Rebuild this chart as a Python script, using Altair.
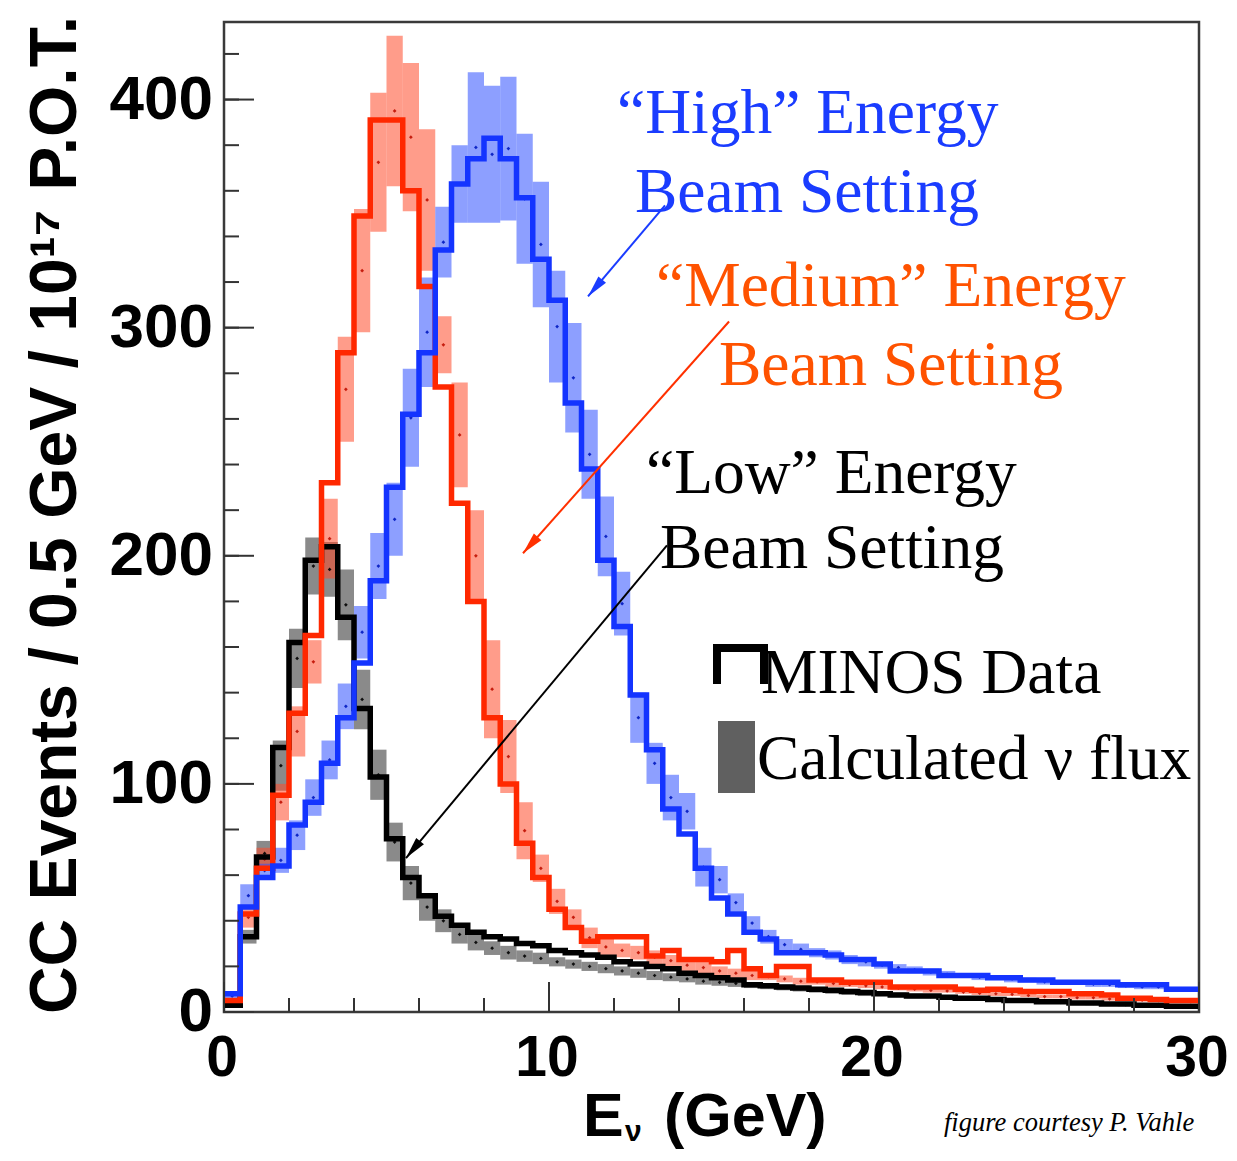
import altair as alt
import pandas as pd

# ---------------- data ----------------
EDGES = [i * 0.5 for i in range(61)]  # 0 .. 30 GeV, 0.5 GeV bins

low_data = [3, 33, 68, 116, 162, 198, 204, 173, 133, 103,
            76, 59, 51, 42, 38, 35, 33, 32, 30, 29,
            27, 26, 25, 24, 22, 21, 20, 19, 17, 16,
            15, 14, 12, 11.5, 11, 10.5, 10, 9.5, 9, 8.5,
            8, 7.5, 7, 7, 6.5, 6, 6, 5.5, 5, 5,
            4.5, 4.5, 4, 4, 3.5, 3.5, 3, 3, 2.5, 2.5]
med_data = [5, 43, 63, 95, 131, 165, 232, 289, 349, 391,
            391, 360, 318, 274, 223, 180, 129, 100, 74, 59,
            45, 37, 31, 33, 33, 33, 24.5, 27, 23, 23,
            22, 27, 19, 16, 20, 20, 14, 14, 13, 13,
            13, 11, 11, 11, 11, 10, 9.5, 10, 9.5, 9,
            9, 9, 8, 8, 7.5, 6, 6, 5.5, 5, 5]
high_data = [8, 46, 59, 64, 82, 92, 109, 129, 153, 189,
             230, 262, 289, 334, 363, 374, 383, 374, 357, 330,
             312, 267, 238, 198, 169, 139, 115, 89, 78, 63,
             50, 43, 35, 32, 26, 26, 26, 25, 23, 23,
             21, 18, 18, 18, 16, 16, 16, 15, 15, 14,
             14, 13, 13, 13, 13, 12, 12, 12, 10, 10]

# calculated flux bands (low / high edge per bin)
low_lo = [2, 30, 64, 97, 142, 183, 182, 163, 124, 93,
          66, 49, 40, 35, 30, 27, 25, 23, 22, 21,
          20, 19, 18, 17, 16, 15, 14, 13.5, 13, 12,
          11.5, 11, 10.5, 10, 9.5, 9, 8.5, 8, 7.5, 7,
          7, 6.5, 6, 6, 5.5, 5, 5, 4.5, 4.5, 4,
          4, 3.5, 3.5, 3, 3, 2.5, 2.5, 2, 2, 2]
low_hi = [4, 36, 75, 119, 168, 208, 206, 194, 150, 115,
          83, 64, 52, 45, 38, 34, 31, 29, 27, 26,
          24, 23, 22, 21, 20, 19, 18, 17, 16, 15,
          14.5, 14, 13, 12.5, 12, 11.5, 11, 10.5, 10, 9.5,
          9, 8.5, 8, 7.5, 7, 7, 6.5, 6, 6, 5.5,
          5, 5, 4.5, 4.5, 4, 4, 3.5, 3.5, 3, 3]
med_lo = [3, 37, 62, 84, 112, 144, 190, 250, 298, 342,
          362, 351, 325, 280, 230, 180, 120, 96, 67, 57,
          43, 38, 28, 25, 24, 23, 21, 20, 18, 17,
          16, 15, 14, 14, 13, 12, 12, 11, 11, 10.5,
          10, 9.5, 9, 8.5, 8.5, 8, 7.5, 7, 7, 6.5,
          6, 6, 5.5, 5.5, 5, 5, 4.5, 4.5, 4, 4]
med_hi = [6, 46, 72, 100, 134, 163, 225, 296, 352, 403,
          428, 416, 387, 305, 276, 220, 163, 128, 92, 69,
          54, 45, 37, 32, 30, 29, 27, 25, 23, 22,
          20, 19, 18, 17, 16, 15, 14.5, 14, 13, 12.5,
          12, 11.5, 11, 10.5, 10, 9.5, 9, 9, 8.5, 8,
          7.5, 7.5, 7, 7, 6.5, 6, 6, 5.5, 5.5, 5]
high_lo = [5, 46, 59, 61, 71, 86, 102, 124, 155, 181,
           200, 239, 274, 322, 346, 346, 346, 347, 328, 309,
           276, 254, 225, 191, 165, 118, 100, 84, 80, 55,
           52, 44, 36, 30, 27, 25, 24, 23, 21, 20,
           19, 18, 17, 16, 15, 15, 14, 14, 13, 13,
           12, 12, 12, 11, 11, 10.5, 10, 10, 9, 9]
high_hi = [9, 56, 65, 72, 84, 102, 119, 144, 178, 210,
           232, 282, 322, 353, 380, 412, 406, 410, 385, 364,
           325, 302, 264, 226, 193, 140, 118, 104, 96, 72,
           64, 52, 42, 36, 32, 30, 28, 27, 25, 24,
           22, 21, 20, 19, 18, 17, 16.5, 16, 16, 15,
           14.5, 14, 14, 13.5, 13, 12.5, 12, 12, 11, 11]

x_tick_labels = [0, 10, 20, 30]
y_tick_labels = [0, 100, 200, 300, 400]
x_minor_ticks = list(range(0, 31, 2))
y_minor_ticks = list(range(0, 421, 20))

# arrows: start (x, y) -> tip (x, y) in data units, head rotation, colour
arrow_x0 = [13.57, 15.54, 13.63]
arrow_y0 = [353.6, 302.7, 204.6]
arrow_x1 = [11.20, 9.20, 5.60]
arrow_y1 = [313.7, 201.1, 67.5]
arrow_angle = [220.2, 221.6, 219.8]
arrow_color = ["#1a3cff", "#ff3000", "#000000"]

# ---------------- styling ----------------
C_LOW, C_MED, C_HIGH = "#000000", "#ff2800", "#1434ff"
B_LOW, B_MED, B_HIGH = "#2a2a2a", "#ff4a2a", "#3050ff"
OX, OY = 224, 22  # page position of plot origin
W, H = 975, 990

xs = alt.Scale(domain=[0, 30], nice=False, zero=False)
ys = alt.Scale(domain=[0, 434], nice=False, zero=False)


def band_layer(lo, hi, color):
    df = pd.DataFrame({"x0": EDGES[:-1], "x1": EDGES[1:], "lo": lo, "hi": hi})
    return alt.Chart(df).mark_rect(color=color, opacity=0.55, strokeWidth=0).encode(
        x=alt.X("x0:Q", scale=xs, axis=None), x2="x1:Q",
        y=alt.Y("lo:Q", scale=ys, axis=None), y2="hi:Q")


def dot_layer(lo, hi, color):
    df = pd.DataFrame({"xc": [e + 0.25 for e in EDGES[:-1]],
                       "m": [(a + b) / 2 for a, b in zip(lo, hi)]})
    return alt.Chart(df).mark_point(shape="diamond", filled=True, size=14,
                                    color=color, opacity=0.9).encode(
        x=alt.X("xc:Q", scale=xs, axis=None), y=alt.Y("m:Q", scale=ys, axis=None))


def step_layer(vals, color):
    df = pd.DataFrame({"e": EDGES, "v": list(vals) + [vals[-1]]})
    return alt.Chart(df).mark_line(interpolate="step-after", color=color,
                                   strokeWidth=5.5, strokeJoin="miter",
                                   strokeCap="butt").encode(
        x=alt.X("e:Q", scale=xs, axis=None),
        y=alt.Y("v:Q", scale=ys, axis=None))


def text(s, px, py, size, color="black", font="Liberation Serif", weight="normal",
         style="normal", angle=0, align="left", baseline="alphabetic"):
    return alt.Chart(pd.DataFrame({"t": [s]})).mark_text(
        font=font, fontSize=size, fontWeight=weight, fontStyle=style, color=color,
        angle=angle, align=align, baseline=baseline).encode(
        text="t:N", x=alt.value(px - OX), y=alt.value(py - OY))


# ticks drawn inward (ROOT style)
def yticks(vals, length):
    return alt.Chart(pd.DataFrame({"t": vals})).mark_rule(color="#333333", strokeWidth=2).encode(
        y=alt.Y("t:Q", scale=ys, axis=None), x=alt.value(0), x2=alt.value(length))


def xticks(vals, length):
    return alt.Chart(pd.DataFrame({"t": vals})).mark_rule(color="#333333", strokeWidth=2).encode(
        x=alt.X("t:Q", scale=xs, axis=None), y=alt.value(H), y2=alt.value(H - length))


# tick labels positioned through the scales
y_labels = alt.Chart(pd.DataFrame({"t": y_tick_labels})).mark_text(
    font="Liberation Sans", fontWeight="bold", fontSize=62, color="black",
    align="right", baseline="middle").encode(
    y=alt.Y("t:Q", scale=ys, axis=None), x=alt.value(213 - OX), text=alt.Text("t:Q", format="d"))
x_labels = alt.Chart(pd.DataFrame({"t": x_tick_labels})).mark_text(
    font="Liberation Sans", fontWeight="bold", fontSize=57, color="black",
    align="center", baseline="alphabetic", dx=-2).encode(
    x=alt.X("t:Q", scale=xs, axis=None), y=alt.value(1076 - OY), text=alt.Text("t:Q", format="d"))

arrows_df = pd.DataFrame({"x0": arrow_x0, "y0": arrow_y0, "x1": arrow_x1, "y1": arrow_y1,
                          "ang": arrow_angle, "c": arrow_color})
arrow_lines = alt.Chart(arrows_df).mark_rule(strokeWidth=2).encode(
    x=alt.X("x0:Q", scale=xs, axis=None), y=alt.Y("y0:Q", scale=ys, axis=None),
    x2="x1:Q", y2="y1:Q", color=alt.Color("c:N", scale=None, legend=None))
arrow_heads = alt.Chart(arrows_df).mark_point(
    shape="M0,0 L0.5,2.2 L-0.5,2.2 Z", filled=True, size=400, opacity=1, strokeWidth=0).encode(
    x=alt.X("x1:Q", scale=xs, axis=None), y=alt.Y("y1:Q", scale=ys, axis=None),
    angle=alt.Angle("ang:Q", scale=None), color=alt.Color("c:N", scale=None, legend=None))

# legend symbols
leg_bracket = [
    alt.Chart(pd.DataFrame({"a": [0]})).mark_rule(color="black", strokeWidth=8).encode(
        x=alt.value(713 - OX), x2=alt.value(768 - OX), y=alt.value(648 - OY)),
    alt.Chart(pd.DataFrame({"a": [0]})).mark_rule(color="black", strokeWidth=8).encode(
        x=alt.value(717 - OX), y=alt.value(644 - OY), y2=alt.value(684 - OY)),
    alt.Chart(pd.DataFrame({"a": [0]})).mark_rule(color="black", strokeWidth=8).encode(
        x=alt.value(764 - OX), y=alt.value(644 - OY), y2=alt.value(684 - OY)),
]
leg_box = alt.Chart(pd.DataFrame({"a": [0]})).mark_rect(color="#606060").encode(
    x=alt.value(718 - OX), x2=alt.value(755 - OX), y=alt.value(721 - OY), y2=alt.value(793 - OY))

S = 63.5
texts = [
    text("\u201cHigh\u201d Energy", 617, 133, S, "#1a3cff"),
    text("Beam Setting", 635, 212, S, "#1a3cff"),
    text("\u201cMedium\u201d Energy", 656, 306, S, "#ff5200"),
    text("Beam Setting", 719, 385, S, "#ff5200"),
    text("\u201cLow\u201d Energy", 646, 493, S, "black"),
    text("Beam Setting", 660, 568, S, "black"),
    text("MINOS Data", 761, 693, S, "black"),
    text("Calculated \u03bd flux", 757, 779, S, "black"),
    text("figure courtesy P. Vahle", 944, 1131, 26.5, "black", style="italic"),
    # axis titles
    text("CC Events / 0.5 GeV / 10\u00b9\u2077 P.O.T.", 56, 515, 66, "black",
         font="Liberation Sans", weight="bold", angle=270, align="center", baseline="middle"),
    text("E", 583, 1136, 61, "black", font="Liberation Sans", weight="bold"),
    text("\u03bd", 625, 1141, 30, "black", font="Liberation Sans", weight="bold"),
    text("(GeV)", 664, 1136, 61, "black", font="Liberation Sans", weight="bold"),
]

layers = [
    band_layer(low_lo, low_hi, B_LOW),
    band_layer(med_lo, med_hi, B_MED),
    band_layer(high_lo, high_hi, B_HIGH),
    dot_layer(low_lo, low_hi, "#000000"),
    dot_layer(med_lo, med_hi, "#c01000"),
    dot_layer(high_lo, high_hi, "#0018c0"),
    step_layer(low_data, C_LOW),
    step_layer(med_data, C_MED),
    step_layer(high_data, C_HIGH),
    yticks(y_minor_ticks, 15), yticks(y_tick_labels, 30),
    xticks(x_minor_ticks, 14), xticks(x_tick_labels, 30),
    y_labels, x_labels,
    arrow_lines, arrow_heads,
] + leg_bracket + [leg_box] + texts

chart = alt.layer(*layers).properties(
    width=W, height=H, autosize=alt.AutoSizeParams(type="none"),
    padding={"left": OX - 8, "top": OY - 8, "right": 30, "bottom": 139},
    background="white",
).configure_view(stroke="#3a3a3a", strokeWidth=2.5)

chart.save("out.html", embed_options={"renderer": "svg", "actions": False})
